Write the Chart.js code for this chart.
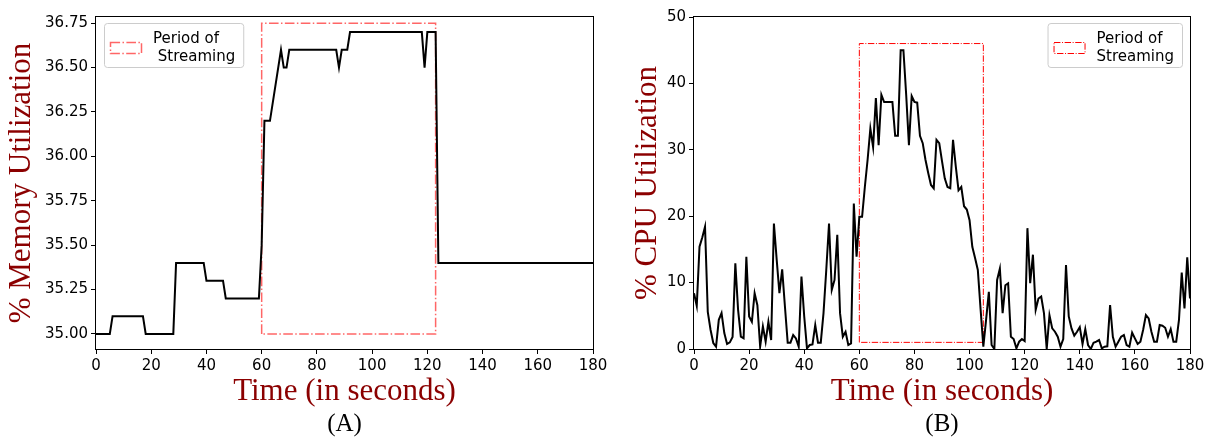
<!DOCTYPE html>
<html>
<head>
<meta charset="utf-8">
<script src="https://cdn.jsdelivr.net/npm/chart.js@4.4.0/dist/chart.umd.min.js"></script>
<style>
  body { margin: 0; background: #fff; }
  #wrap { position: relative; width: 1209px; height: 437px; }
  canvas { position: absolute; top: 0; }
  #mem-chart { left: 0; }
  #cpu-chart { left: 604px; }
</style>
</head>
<body>
<div id="wrap">
  <canvas id="mem-chart" width="624" height="437"></canvas>
  <canvas id="cpu-chart" width="605" height="437"></canvas>
</div>
<script>
// shared x axis
const timeTicks = [0, 20, 40, 60, 80, 100, 120, 140, 160, 180];

// (A) memory utilization
const memTime = [0, 5, 6, 17, 18, 28, 29, 39, 40, 46, 47, 59, 60, 61, 63, 67, 68, 69, 70, 87, 88, 89, 91, 92, 118, 119, 120, 123, 124, 180];
const memValue = [35.0, 35.0, 35.1, 35.1, 35.0, 35.0, 35.4, 35.4, 35.3, 35.3, 35.2, 35.2, 35.5, 36.2, 36.2, 36.6, 36.5, 36.5, 36.6, 36.6, 36.5, 36.6, 36.6, 36.7, 36.7, 36.5, 36.7, 36.7, 35.4, 35.4];
const memStreamX = [60, 60, 123, 123, 60];
const memStreamY = [35.0, 36.75, 36.75, 35.0, 35.0];
const memYTicks = [35.0, 35.25, 35.5, 35.75, 36.0, 36.25, 36.5, 36.75];

// (B) cpu utilization, one sample per second (0..180)
const cpuValue = [
  8.4, 6.5, 15.4, 16.8, 18.4, 5.6, 2.9, 0.9, 0.35, 4.4,
  5.4, 2.4, 0.75, 1.0, 1.8, 12.9, 5.9, 1.85, 1.6, 13.9,
  4.9, 4.1, 8.4, 6.6, 0.35, 3.4, 1.1, 4.1, 1.35, 18.9,
  13.5, 8.4, 12.0, 6.4, 0.95, 0.95, 2.1, 1.6, 0.35, 10.9,
  4.9, 0.1, 0.6, 0.7, 3.6, 0.95, 0.95, 5.4, 11.9, 18.9,
  8.9, 10.4, 17.2, 5.4, 1.85, 2.6, 0.6, 0.85, 21.9, 13.9,
  19.9, 19.9, 24.4, 28.5, 33.2, 30.4, 37.8, 30.7, 38.3, 37.2,
  37.2, 37.2, 37.2, 32.1, 32.1, 45.0, 45.0, 38.3, 30.7, 38.1,
  37.2, 37.1, 32.1, 31.0, 28.5, 26.5, 24.7, 24.2, 31.5, 31.0,
  28.3, 25.7, 24.4, 24.2, 31.5, 27.5, 23.9, 24.4, 21.5, 21.0,
  19.4, 15.4, 13.7, 11.9, 6.0, 0.35, 4.4, 8.6, 0.6, 0,
  10.4, 12.1, 5.4, 9.6, 9.9, 1.85, 1.5, 0.1, 1.1, 1.5,
  1.2, 18.2, 9.9, 14.2, 5.9, 7.6, 7.9, 5.4, 0, 5.1,
  3.1, 2.6, 1.85, 0.35, 1.5, 12.65, 4.9, 3.1, 2.0, 2.6,
  3.3, 0.75, 3.0, 0.6, 0, 0.95, 1.1, 1.35, 0.1, 0.35,
  0.4, 6.6, 1.85, 0.35, 1.1, 1.85, 2.1, 0.6, 0.35, 2.45,
  1.6, 0.75, 1.1, 2.9, 5.1, 4.6, 2.6, 1.1, 1.1, 3.6,
  3.5, 3.2, 1.85, 3.0, 1.1, 1.1, 4.4, 11.5, 6.1, 13.8,
  7.6
];
const cpuStreamX = [60, 60, 105, 105, 60];
const cpuStreamY = [1, 46, 46, 1, 1];
const cpuYTicks = [0, 10, 20, 30, 40, 50];

const TICK_FONT = { family: 'DejaVu Sans', size: 15 };
const LABEL_FONT = { family: 'Liberation Serif', size: 31, lineHeight: 1 };
const DARKRED = '#8b0000';

// axes frame + two-line legend
const frameLegend = {
  id: 'frameLegend',
  afterDraw(chart, args, opts) {
    const { ctx, chartArea: a } = chart;
    ctx.save();
    ctx.strokeStyle = '#000';
    ctx.lineWidth = 1;
    ctx.strokeRect(Math.round(a.left) - 0.5, Math.round(a.top) - 0.5,
      Math.round(a.right - a.left) + 1, Math.round(a.bottom - a.top) + 1);

    ctx.font = '15px "DejaVu Sans"';
    const textW = Math.max(...opts.lines.map(t => ctx.measureText(t).width));
    const w = 49 + textW + 8, h = 44;
    const x = opts.side === 'left' ? a.left + 8 : a.right - 8 - w;
    const y = a.top + 6;
    ctx.beginPath();
    ctx.roundRect(x + 0.5, y + 0.5, w, h, 3);
    ctx.fillStyle = 'rgba(255,255,255,0.8)';
    ctx.fill();
    ctx.strokeStyle = '#cccccc';
    ctx.stroke();

    ctx.setLineDash(opts.dash);
    ctx.strokeStyle = opts.color;
    ctx.lineWidth = opts.width;
    ctx.strokeRect(x + 6.5, y + 19.5, 31, 11);
    ctx.setLineDash([]);

    ctx.fillStyle = '#000';
    ctx.textBaseline = 'alphabetic';
    opts.lines.forEach((t, i) => ctx.fillText(t, x + 49, y + 20 + i * 17.5));
    ctx.restore();
  }
};

function xScale() {
  return {
    type: 'linear', min: 0, max: 180,
    afterBuildTicks: s => { s.ticks = timeTicks.map(v => ({ value: v })); },
    afterFit: s => { s.height = 63; s.paddingLeft = 0; s.paddingRight = 0; },
    grid: { display: true, drawOnChartArea: false, drawTicks: true, tickLength: 5, color: '#000' },
    border: { display: false },
    ticks: { color: '#000', font: TICK_FONT, padding: 3, maxRotation: 0, autoSkip: false },
    title: { display: true, text: 'Time (in seconds)', color: DARKRED, font: LABEL_FONT, padding: { top: 0, bottom: 4.5 } }
  };
}

function yScale(min, max, tickVals, width, label, titlePad, fmt) {
  return {
    type: 'linear', min: min, max: max,
    afterBuildTicks: s => { s.ticks = tickVals.map(v => ({ value: v })); },
    afterFit: s => { s.width = width; s.paddingTop = 0; s.paddingBottom = 0; },
    grid: { display: true, drawOnChartArea: false, drawTicks: true, tickLength: 5, color: '#000' },
    border: { display: false },
    ticks: { color: '#000', font: TICK_FONT, padding: 3, autoSkip: false, callback: fmt },
    title: { display: true, text: label, color: DARKRED, font: LABEL_FONT, padding: { top: titlePad, bottom: 0 } }
  };
}

function panelTitle(text) {
  return {
    display: true, position: 'bottom', fullSize: false, text: text, color: '#000',
    font: { family: 'Liberation Serif', size: 25, weight: 'normal', lineHeight: 1 }, padding: 0
  };
}

// Memory chart
const memCtx = document.getElementById('mem-chart').getContext('2d');
const memChart = new Chart(memCtx, {
  type: 'line',
  data: {
    datasets: [
      {
        data: memTime.map((t, i) => ({ x: t, y: memValue[i] })),
        borderColor: '#000', borderWidth: 2, pointRadius: 0, tension: 0, fill: false
      },
      {
        data: memStreamX.map((t, i) => ({ x: t, y: memStreamY[i] })),
        borderColor: 'rgba(255,0,0,0.6)', borderWidth: 1.5, borderDash: [9.6, 2.4, 1.5, 2.4],
        pointRadius: 0, tension: 0, fill: false
      }
    ]
  },
  options: {
    responsive: false,
    animation: false,
    devicePixelRatio: 1,
    layout: { padding: { top: 17, right: 31, left: 0, bottom: 0 } },
    scales: {
      x: xScale(),
      y: yScale(34.915, 36.785, memYTicks, 96, '% Memory Utilization', 6.5, v => v.toFixed(2))
    },
    plugins: {
      legend: { display: false },
      tooltip: { enabled: false },
      title: panelTitle('(A)'),
      frameLegend: { side: 'left', lines: ['Period of', ' Streaming'], color: 'rgba(255,0,0,0.6)', width: 1.5, dash: [9.6, 2.4, 1.5, 2.4] }
    }
  },
  plugins: [frameLegend]
});

// CPU chart
const cpuCtx = document.getElementById('cpu-chart').getContext('2d');
const cpuChart = new Chart(cpuCtx, {
  type: 'line',
  data: {
    datasets: [
      {
        data: cpuValue.map((v, i) => ({ x: i, y: v })),
        borderColor: '#000', borderWidth: 2, pointRadius: 0, tension: 0, fill: false
      },
      {
        data: cpuStreamX.map((t, i) => ({ x: t, y: cpuStreamY[i] })),
        borderColor: '#ff0000', borderWidth: 1, borderDash: [6.4, 1.6, 1, 1.6],
        pointRadius: 0, tension: 0, fill: false
      }
    ]
  },
  options: {
    responsive: false,
    animation: false,
    devicePixelRatio: 1,
    layout: { padding: { top: 17, right: 19, left: 0, bottom: 0 } },
    scales: {
      x: xScale(),
      y: yScale(0, 50, cpuYTicks, 90, '% CPU Utilization', 28.5, v => String(v))
    },
    plugins: {
      legend: { display: false },
      tooltip: { enabled: false },
      title: panelTitle('(B)'),
      frameLegend: { side: 'right', lines: ['Period of', 'Streaming'], color: '#ff0000', width: 1, dash: [6.4, 1.6, 1, 1.6] }
    }
  },
  plugins: [frameLegend]
});
</script>
</body>
</html>
